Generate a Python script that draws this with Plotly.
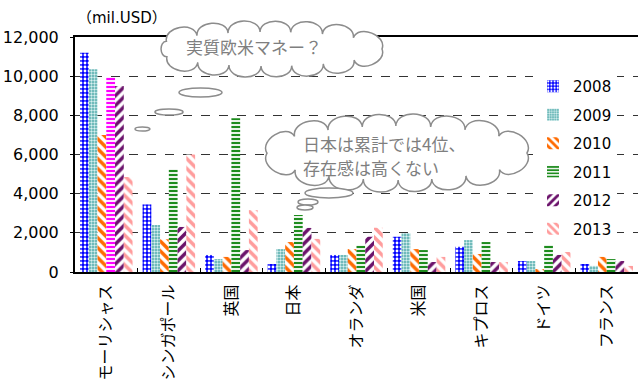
import math
import plotly.graph_objects as go

categories = ["モーリシャス", "シンガポール", "英国", "日本", "オランダ", "米国", "キプロス", "ドイツ", "フランス"]
years = ["2008", "2009", "2010", "2011", "2012", "2013"]
v2008 = [11200, 3450, 870, 410, 870, 1800, 1290, 560, 410]
v2009 = [10350, 2400, 660, 1170, 870, 1990, 1630, 560, 310]
v2010 = [7000, 1670, 770, 1530, 1170, 1170, 920, 150, 770]
v2011 = [9950, 5250, 7850, 2910, 1360, 1120, 1530, 1630, 660]
v2012 = [9500, 2300, 1120, 2250, 1800, 510, 510, 870, 560]
v2013 = [4850, 6000, 3160, 1690, 2260, 770, 510, 1020, 310]
highlight_category = "モーリシャス"   # bar drawn in magenta for 2011
yticks = [0, 2000, 4000, 6000, 8000, 10000, 12000]
ytick_text = ["0", "2,000", "4,000", "6,000", "8,000", "10,000", "12,000"]

series = [v2008, v2009, v2010, v2011, v2012, v2013]
styles = [
    dict(shape=".", bg="#0000FF", fg="#FFFFFF", size=4, sol=0.4),
    dict(shape=".", bg="#4FA9A9", fg="#D8F0F0", size=3, sol=0.5),
    dict(shape="\\", bg="#FFFFFF", fg="#FF6A00", size=7, sol=0.5),
    dict(shape="-", bg="#FFFFFF", fg="#1E8C1E", size=4, sol=0.55),
    dict(shape="/", bg="#FFFFFF", fg="#6B126B", size=7, sol=0.5),
    dict(shape="\\", bg="#FFFFFF", fg="#FF9C9C", size=7, sol=0.5),
]

FONT = "'DejaVu Sans', 'Noto Sans CJK JP', sans-serif"
JFONT = "'Noto Sans CJK JP', 'DejaVu Sans', sans-serif"
W, H = 638, 388
L, R, T, B = 75, 638, 37, 272

GROUP = 0.84
BW = GROUP / len(years)


def pp(x, y):
    return ((x - L) / (R - L), (B - y) / (B - T))


def pattern(st, fg):
    return dict(shape=st["shape"], bgcolor=st["bg"], fgcolor=fg,
                size=st["size"], solidity=st["sol"], fillmode="replace")


fig = go.Figure()
for i, (yr, vals, st) in enumerate(zip(years, series, styles)):
    off = -GROUP / 2 + i * BW
    ys = list(vals)
    hl = None
    if yr == "2011":
        k = categories.index(highlight_category)
        hl = ys[k]
        ys[k] = None
    fig.add_trace(go.Bar(
        x=categories, y=ys, name=yr, legendgroup=yr, offset=off, width=BW,
        marker=dict(color=st["fg"], line=dict(width=0), pattern=pattern(st, st["fg"])),
    ))
    if hl is not None:
        fig.add_trace(go.Bar(
            x=[highlight_category], y=[hl], name=yr, legendgroup=yr, showlegend=False,
            offset=off, width=BW,
            marker=dict(color="#FF00FF", line=dict(width=0), pattern=pattern(st, "#FF00FF")),
        ))


def cloud_path(cx, cy, rx, ry, n, bulge=0.36):
    m = 720
    samp = [(cx + rx * math.cos(2 * math.pi * i / m), cy + ry * math.sin(2 * math.pi * i / m)) for i in range(m + 1)]
    acc = [0.0]
    for i in range(1, len(samp)):
        acc.append(acc[-1] + math.dist(samp[i], samp[i - 1]))
    total = acc[-1]
    pts = []
    j = 0
    for k in range(n):
        target = total * k / n
        while acc[j + 1] < target:
            j += 1
        pts.append(samp[j])
    pts.append(pts[0])
    x0, y0 = pp(*pts[0])
    segs = [f"M {x0:.5f},{y0:.5f}"]
    for i in range(n):
        p, q = pts[i], pts[i + 1]
        mx, my = (p[0] + q[0]) / 2, (p[1] + q[1]) / 2
        nx, ny = (mx - cx) / rx / rx, (my - cy) / ry / ry
        ln = math.hypot(nx, ny)
        nx, ny = nx / ln, ny / ln
        h = math.dist(p, q) * bulge * 1.33
        c1 = pp(p[0] + nx * h, p[1] + ny * h)
        c2 = pp(q[0] + nx * h, q[1] + ny * h)
        e = pp(*q)
        segs.append(f"C {c1[0]:.5f},{c1[1]:.5f} {c2[0]:.5f},{c2[1]:.5f} {e[0]:.5f},{e[1]:.5f}")
    segs.append("Z")
    return " ".join(segs)


CL = "#8C8C8C"
shapes = []
for (cx, cy, rx, ry, n) in [(268, 49, 114, 17, 15), (397, 153, 130, 27, 16)]:
    shapes.append(dict(type="path", xref="paper", yref="paper", path=cloud_path(cx, cy, rx, ry, n),
                       line=dict(color=CL, width=1.5), fillcolor="white", layer="above"))
for (x0, y0, x1, y1) in [(179, 88, 222, 97), (155, 109, 183, 115), (135, 127, 150, 131),
                         (305, 188, 353, 198), (298, 199, 318, 205), (297, 205, 313, 210)]:
    a = pp(x0, y1)
    b = pp(x1, y0)
    shapes.append(dict(type="circle", xref="paper", yref="paper", x0=a[0], y0=a[1], x1=b[0], y1=b[1],
                       line=dict(color=CL, width=1.5), fillcolor="white", layer="above"))

annotations = []
ax, ay = pp(122, 18)
annotations.append(dict(xref="paper", yref="paper", x=ax, y=ay, text="（mil.USD）", showarrow=False,
                        font=dict(size=15, color="black", family=FONT), xanchor="center", yanchor="middle"))
ax, ay = pp(254, 46)
annotations.append(dict(xref="paper", yref="paper", x=ax, y=ay, text="実質欧米マネー？", showarrow=False,
                        font=dict(size=17, color="#7F7F7F", family=JFONT), xanchor="center", yanchor="middle"))
for txt, yy in [("日本は累計では4位、", 143), ("存在感は高くない", 167)]:
    ax, ay = pp(301, yy)
    annotations.append(dict(xref="paper", yref="paper", x=ax, y=ay, text=txt,
                            showarrow=False, align="left",
                            font=dict(size=17, color="#7F7F7F", family=JFONT), xanchor="left", yanchor="middle"))

lx, ly = pp(533, 70)
fig.update_layout(
    width=W, height=H,
    margin=dict(l=L, r=W - R, t=T, b=H - B, pad=0),
    paper_bgcolor="white", plot_bgcolor="white",
    barmode="overlay",
    font=dict(family=FONT, size=15, color="black"),
    showlegend=True,
    legend=dict(x=lx, y=ly, xanchor="left", yanchor="top", bgcolor="white",
                font=dict(size=15, color="black", family=FONT), tracegroupgap=6,
                itemwidth=30, borderwidth=0),
    shapes=shapes, annotations=annotations,
    xaxis=dict(type="category", categoryorder="array", categoryarray=categories,
               showline=True, linecolor="black", linewidth=2, mirror=True,
               ticks="inside", tickson="boundaries", ticklen=4, tickcolor="black", tickwidth=1,
               tickangle=-90, tickfont=dict(size=16, color="black", family=JFONT),
               ticklabelstandoff=4,
               showgrid=False, zeroline=False),
    yaxis=dict(range=[0, 12000], tickvals=yticks, ticktext=ytick_text, showline=True,
               linecolor="black", linewidth=2, ticks="outside", ticklen=3, tickcolor="black",
               showgrid=True, gridcolor="#333333", griddash="dash", gridwidth=1,
               ticklabelstandoff=8,
               zeroline=False, tickfont=dict(size=16, color="black", family=FONT)),
)
fig.write_html("out.html")
